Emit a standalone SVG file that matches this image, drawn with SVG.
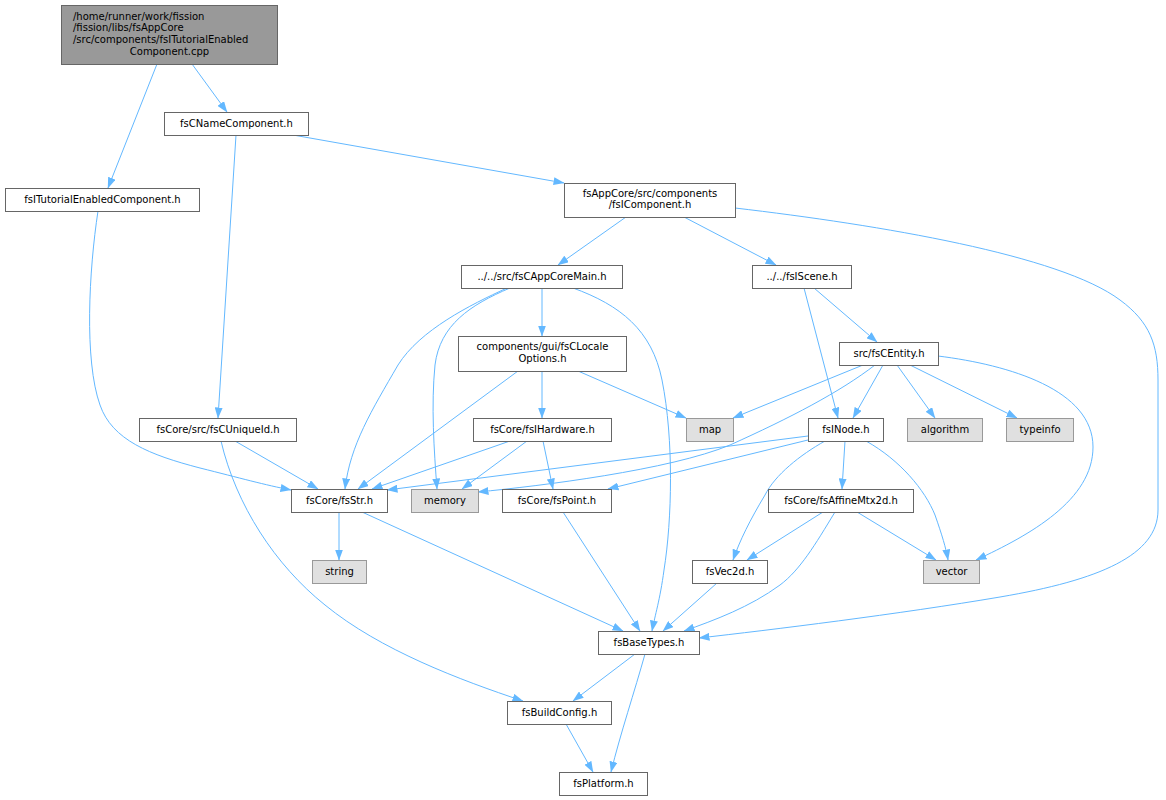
<svg xmlns="http://www.w3.org/2000/svg" width="1166" height="800" viewBox="0 0 1166 800">
<defs>
<style>
.n rect{fill:#ffffff;stroke:#666666;stroke-width:1}
.g rect{fill:#e0e0e0;stroke:#999999;stroke-width:1}
.r rect{fill:#999999;stroke:#666666;stroke-width:1}
text{font-family:"DejaVu Sans","Liberation Sans",sans-serif;font-size:10px;fill:#000000}
.c{text-anchor:middle}
#edges path{fill:none;stroke:#63b8ff;stroke-width:1;marker-end:url(#ah)}
</style>
<marker id="ah" viewBox="0 0 11 8" markerWidth="11" markerHeight="8" refX="10.5" refY="4" orient="auto" markerUnits="userSpaceOnUse"><path d="M0,0 L11,4 L0,8 z" fill="#63b8ff"/></marker>
</defs>
<rect width="1166" height="800" fill="#ffffff"/>
<g id="edges">
<path d="M192,64 L227,112"/>
<path d="M157,64 L108,188"/>
<path d="M293,135 L564,183"/>
<path d="M236,135 L218,418"/>
<path d="M98,211 C89,270 84,360 100,405 C112,440 150,455 200,468 C240,478 265,485 291,490"/>
<path d="M626,217 L558,265"/>
<path d="M684,217 L776,265"/>
<path d="M735,208 C880,225 1060,255 1120,300 C1150,322 1158,345 1158,380 L1158,510 C1158,555 1100,580 1000,597 C900,614 770,630 699,638"/>
<path d="M507,288 C470,305 420,330 398,365 C372,410 350,445 345,489"/>
<path d="M510,288 C470,305 440,325 435,365 C431,405 434,450 437,489"/>
<path d="M542,288 L542,336"/>
<path d="M573,288 C620,305 652,330 662,380 C674,440 672,520 664,570 C660,600 655,615 652,631"/>
<path d="M518,371 L358,489"/>
<path d="M542,371 L542,418"/>
<path d="M578,371 L686,418"/>
<path d="M804,288 L838,418"/>
<path d="M814,288 L877,342"/>
<path d="M863,365 L733,418"/>
<path d="M875,365 C840,392 790,418 730,445 C670,470 540,486 478,492"/>
<path d="M883,365 L853,418"/>
<path d="M897,365 L935,418"/>
<path d="M910,365 L1017,418"/>
<path d="M938,356 C1010,365 1093,390 1093,447 C1093,500 1030,535 976,560"/>
<path d="M808,436 L387,490"/>
<path d="M808,440 L608,489"/>
<path d="M845,441 L842,489"/>
<path d="M825,441 C800,455 775,475 765,495 C750,520 740,540 733,560"/>
<path d="M866,441 C900,460 925,490 935,515 C942,535 946,548 948,560"/>
<path d="M235,441 L318,489"/>
<path d="M221,441 C236,505 275,565 325,605 C380,650 460,680 523,701"/>
<path d="M510,441 L372,489"/>
<path d="M527,441 L462,489"/>
<path d="M543,441 L553,489"/>
<path d="M823,512 L747,560"/>
<path d="M857,512 L936,560"/>
<path d="M835,512 C815,545 800,570 780,585 C750,607 715,620 684,631"/>
<path d="M717,583 L663,631"/>
<path d="M563,512 L640,631"/>
<path d="M362,512 L623,631"/>
<path d="M339,512 L339,560"/>
<path d="M635,654 L573,701"/>
<path d="M645,654 C635,690 620,735 611,772"/>
<path d="M566,724 L593,772"/>
</g>
<g id="root" class="r"><rect x="61.5" y="5.5" width="216" height="59"/>
<text x="73" y="19.5">/home/runner/work/fission</text>
<text x="73" y="31.2">/fission/libs/fsAppCore</text>
<text x="73" y="42.9">/src/components/fsITutorialEnabled</text>
<text x="169.5" y="54.6" class="c">Component.cpp</text></g>
<g id="nameComp" class="n"><rect x="164.5" y="112.5" width="144" height="23"/><text x="236.5" y="127" class="c">fsCNameComponent.h</text></g>
<g id="tutorial" class="n"><rect x="5.5" y="188.5" width="194" height="23"/><text x="102.5" y="203" class="c">fsITutorialEnabledComponent.h</text></g>
<g id="iComponent" class="n"><rect x="564.5" y="183.5" width="171" height="34"/><text x="650" y="197" class="c">fsAppCore/src/components</text><text x="650" y="208" class="c">/fsIComponent.h</text></g>
<g id="appCoreMain" class="n"><rect x="461.5" y="265.5" width="161" height="23"/><text x="542" y="280" class="c">../../src/fsCAppCoreMain.h</text></g>
<g id="localeOpt" class="n"><rect x="458.5" y="336.5" width="168" height="35"/><text x="542.5" y="350" class="c">components/gui/fsCLocale</text><text x="542.5" y="361.5" class="c">Options.h</text></g>
<g id="iScene" class="n"><rect x="752.5" y="265.5" width="99" height="23"/><text x="802" y="280" class="c">../../fsIScene.h</text></g>
<g id="cEntity" class="n"><rect x="839.5" y="342.5" width="99" height="23"/><text x="889" y="357" class="c">src/fsCEntity.h</text></g>
<g id="iNode" class="n"><rect x="808.5" y="418.5" width="75" height="23"/><text x="846" y="433" class="c">fsINode.h</text></g>
<g id="algorithm" class="g"><rect x="907.5" y="418.5" width="75" height="23"/><text x="945" y="433" class="c">algorithm</text></g>
<g id="typeinfo" class="g"><rect x="1006.5" y="418.5" width="67" height="23"/><text x="1040" y="433" class="c">typeinfo</text></g>
<g id="map" class="g"><rect x="686.5" y="418.5" width="47" height="23"/><text x="710" y="433" class="c">map</text></g>
<g id="iHardware" class="n"><rect x="473.5" y="418.5" width="138" height="23"/><text x="542.5" y="433" class="c">fsCore/fsIHardware.h</text></g>
<g id="uniqueId" class="n"><rect x="139.5" y="418.5" width="157" height="23"/><text x="218" y="433" class="c">fsCore/src/fsCUniqueId.h</text></g>
<g id="str" class="n"><rect x="291.5" y="489.5" width="96" height="23"/><text x="339.5" y="504" class="c">fsCore/fsStr.h</text></g>
<g id="memory" class="g"><rect x="411.5" y="489.5" width="67" height="23"/><text x="445" y="504" class="c">memory</text></g>
<g id="point" class="n"><rect x="502.5" y="489.5" width="109" height="23"/><text x="557" y="504" class="c">fsCore/fsPoint.h</text></g>
<g id="affine" class="n"><rect x="768.5" y="489.5" width="145" height="23"/><text x="841" y="504" class="c">fsCore/fsAffineMtx2d.h</text></g>
<g id="string" class="g"><rect x="312.5" y="560.5" width="54" height="23"/><text x="339.5" y="575" class="c">string</text></g>
<g id="vec2d" class="n"><rect x="692.5" y="560.5" width="75" height="23"/><text x="730" y="575" class="c">fsVec2d.h</text></g>
<g id="vector" class="g"><rect x="923.5" y="560.5" width="56" height="23"/><text x="951.5" y="575" class="c">vector</text></g>
<g id="baseTypes" class="n"><rect x="598.5" y="631.5" width="101" height="23"/><text x="649" y="646" class="c">fsBaseTypes.h</text></g>
<g id="buildConfig" class="n"><rect x="507.5" y="701.5" width="104" height="23"/><text x="559.5" y="716" class="c">fsBuildConfig.h</text></g>
<g id="platform" class="n"><rect x="559.5" y="772.5" width="88" height="23"/><text x="603.5" y="787" class="c">fsPlatform.h</text></g>
</svg>
